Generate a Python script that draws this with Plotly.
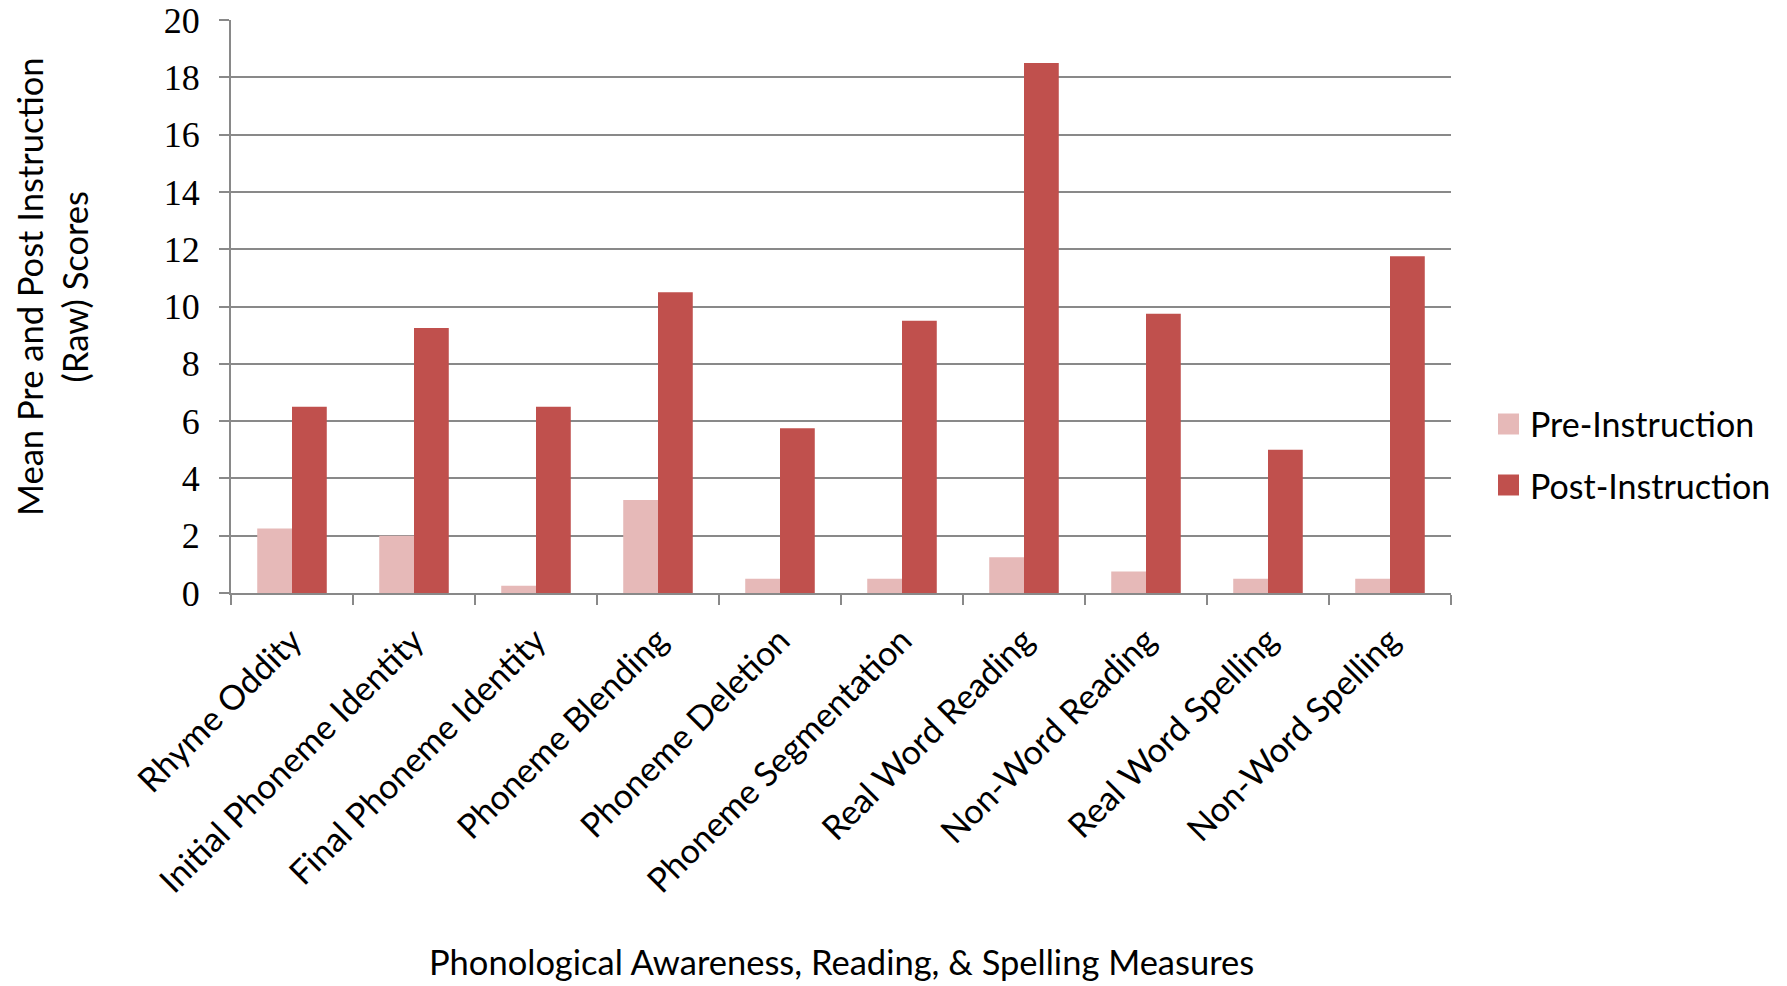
import plotly.graph_objects as go

categories = [
    "Rhyme Oddity",
    "Initial Phoneme Identity",
    "Final Phoneme Identity",
    "Phoneme Blending",
    "Phoneme Deletion",
    "Phoneme Segmentation",
    "Real Word Reading",
    "Non-Word Reading",
    "Real Word Spelling",
    "Non-Word Spelling",
]
pre_instruction = [2.25, 2.0, 0.25, 3.25, 0.5, 0.5, 1.25, 0.75, 0.5, 0.5]
post_instruction = [6.5, 9.25, 6.5, 10.5, 5.75, 9.5, 18.5, 9.75, 5.0, 11.75]
y_ticks = [0, 2, 4, 6, 8, 10, 12, 14, 16, 18, 20]
series_names = ["Pre-Instruction", "Post-Instruction"]
series_colors = ["#E6B9B8", "#C0504D"]

sans = "Lato, 'Open Sans', sans-serif"
serif = "'Liberation Serif', 'DejaVu Serif', serif"
grid_col = "#898989"

W, H = 1787, 986
ML, MR, MT, MB = 231, 336, 20, 393
plot_w = W - ML - MR
plot_h = H - MT - MB


def px_to_paper_x(px):
    return (px - ML) / plot_w


def px_to_paper_y(py):
    return (H - MB - py) / plot_h


fig = go.Figure()
for name, vals, col in zip(series_names, [pre_instruction, post_instruction], series_colors):
    fig.add_trace(go.Bar(name=name, x=categories, y=vals, showlegend=False,
                         marker=dict(color=col, line=dict(width=0))))

# Hand-built legend: square swatches with labels to the right of the plot
shapes = []
annotations = []
legend_rows = [424, 485]
for name, col, cy in zip(series_names, series_colors, legend_rows):
    shapes.append(dict(type="rect", xref="paper", yref="paper",
                       x0=px_to_paper_x(1498), x1=px_to_paper_x(1519),
                       y0=px_to_paper_y(cy + 10.5), y1=px_to_paper_y(cy - 10.5),
                       fillcolor=col, line=dict(width=0)))
    annotations.append(dict(text=name, xref="paper", yref="paper",
                            x=px_to_paper_x(1528), y=px_to_paper_y(cy),
                            xanchor="left", yanchor="middle", showarrow=False,
                            font=dict(family=sans, size=34)))

annotations += [
    dict(text="Mean Pre and Post Instruction<br>(Raw) Scores",
         xref="paper", yref="paper", x=px_to_paper_x(52), y=px_to_paper_y(287),
         xanchor="center", yanchor="middle", textangle=-90,
         showarrow=False, font=dict(family=sans, size=34.5)),
    dict(text="Phonological Awareness, Reading, & Spelling Measures",
         xref="paper", yref="paper", x=0.5, y=px_to_paper_y(961),
         xanchor="center", yanchor="middle",
         showarrow=False, font=dict(family=sans, size=34.5)),
]

fig.update_layout(
    width=W, height=H,
    margin=dict(l=ML, r=MR, t=MT, b=MB, autoexpand=False),
    paper_bgcolor="white", plot_bgcolor="white",
    barmode="group", bargap=0.43, bargroupgap=0,
    font=dict(family=sans, color="black", size=30),
    showlegend=False,
    xaxis=dict(
        tickangle=-45, tickfont=dict(family=sans, size=34),
        showline=True, linecolor=grid_col, linewidth=2,
        ticks="outside", tickson="boundaries", ticklen=10,
        tickcolor=grid_col, tickwidth=2, showgrid=False,
        ticklabelstandoff=12, automargin=False,
    ),
    yaxis=dict(
        range=[0, 20], tickvals=y_ticks,
        tickfont=dict(family=serif, size=36),
        showline=True, linecolor=grid_col, linewidth=2,
        showgrid=True, gridcolor=grid_col, gridwidth=2,
        ticks="outside", ticklen=10, tickcolor=grid_col, tickwidth=2,
        zeroline=False, ticklabelstandoff=12, automargin=False,
    ),
    shapes=shapes,
    annotations=annotations,
)

fig.write_html("out.html")
